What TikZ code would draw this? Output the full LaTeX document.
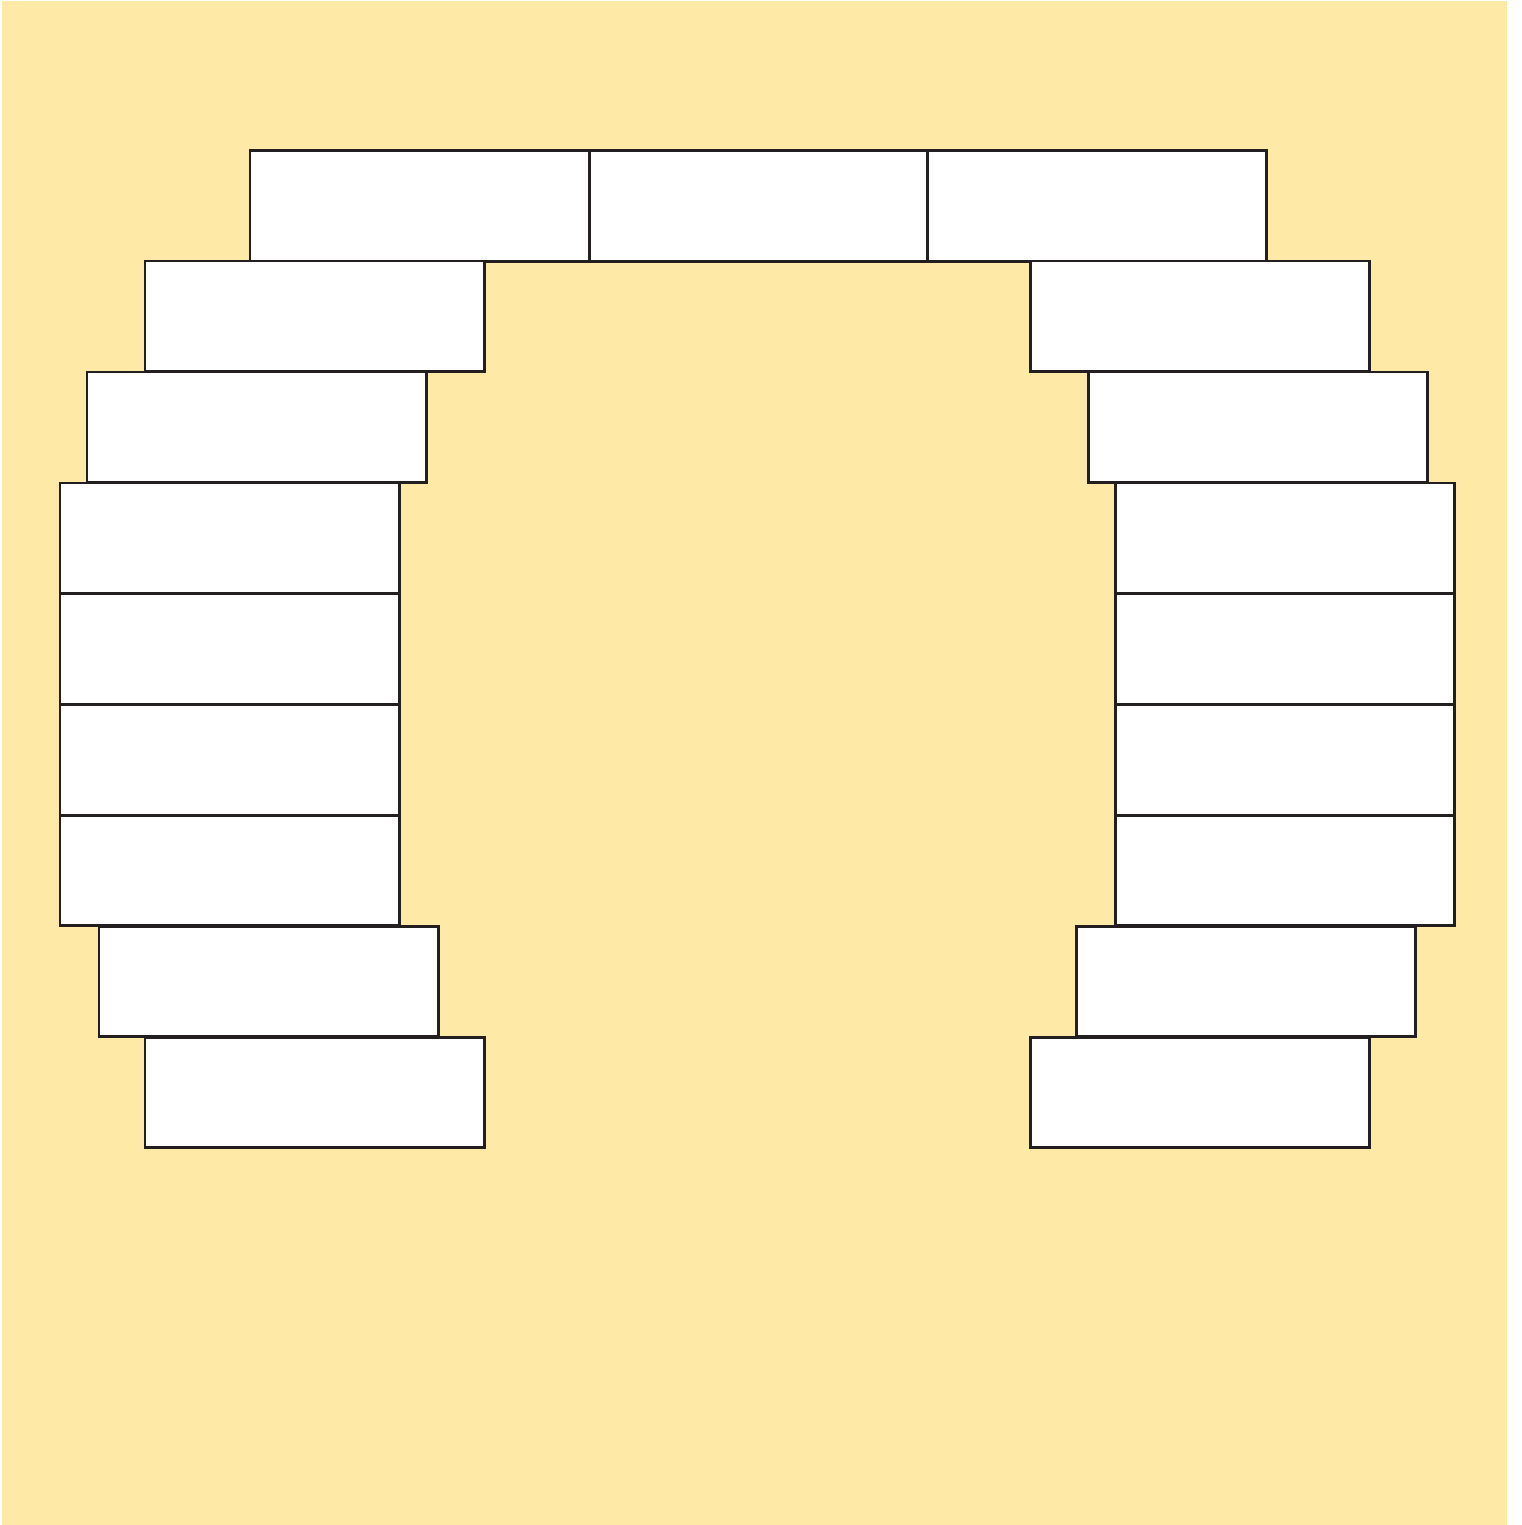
\documentclass[tikz,border=0pt]{standalone}
\usepackage{tikz}

\definecolor{bgyellow}{HTML}{FEE9A6}
\definecolor{outline}{HTML}{231F20}

\tikzset{
    seat/.style={draw=outline, fill=white, line width=0.85pt, anchor=north west,
        minimum width=3.39cm, minimum height=1.105cm, inner sep=0pt, outer sep=0pt}
}

\begin{document}
\begin{tikzpicture}[x=0.01cm, y=-0.01cm]
    \useasboundingbox (0,0) rectangle (1521,1525);
    \fill[bgyellow] (2,1) rectangle (1507,1525);
    % top row
    \node[seat] (T1) at (250,151) {}; \node[seat] (T2) at (589,151) {};
    \node[seat] (T3) at (927,151) {};
    % left side
    \node[seat] (L1) at (145,261) {}; \node[seat] (L2) at (87,372) {};
    \node[seat] (L3) at (60,483) {};  \node[seat] (L4) at (60,593.5) {};
    \node[seat] (L5) at (60,704.5) {}; \node[seat] (L6) at (60,815) {};
    \node[seat] (L7) at (99,926) {};  \node[seat] (L8) at (145,1037) {};
    % right side
    \node[seat] (R1) at (1030,261) {}; \node[seat] (R2) at (1088,372) {};
    \node[seat] (R3) at (1115,483) {}; \node[seat] (R4) at (1115,593.5) {};
    \node[seat] (R5) at (1115,704.5) {}; \node[seat] (R6) at (1115,815) {};
    \node[seat] (R7) at (1076,926) {}; \node[seat] (R8) at (1030,1037) {};
\end{tikzpicture}
\end{document}
